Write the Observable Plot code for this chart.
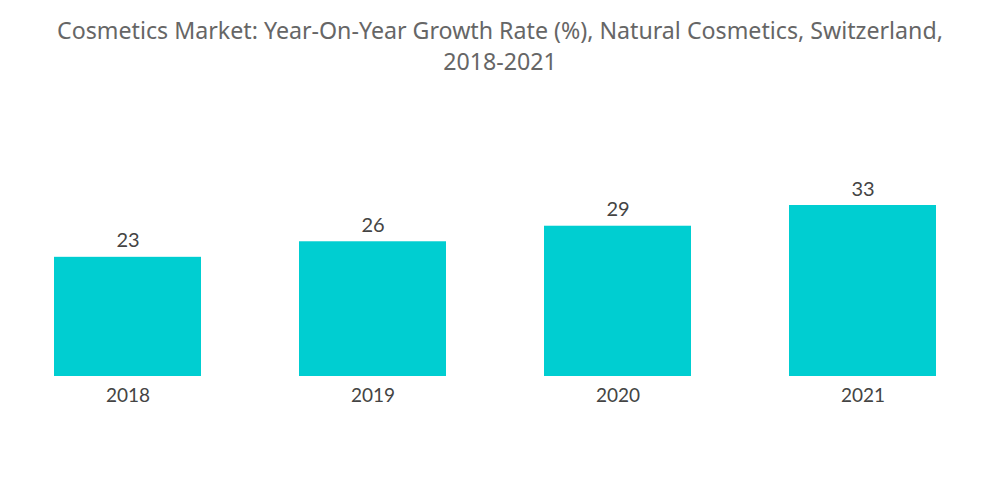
<!DOCTYPE html>
<html>
<head>
<meta charset="utf-8">
<script src="https://cdn.jsdelivr.net/npm/d3@7"></script>
<script src="https://cdn.jsdelivr.net/npm/@observablehq/plot@0.6"></script>
<style>
  html, body { margin: 0; padding: 0; background: #fff; }
  #title { height: 90px; box-sizing: border-box; padding-top: 15px; text-align: center;
    font-family: "Noto Sans", sans-serif; font-size: 23.2px; line-height: 31px; color: #666; }
  #chart svg { display: block; }
</style>
</head>
<body>
<div id="title">Cosmetics Market: Year-On-Year Growth Rate (%), Natural Cosmetics, Switzerland,<br>2018-2021</div>
<div id="chart"></div>
<script>
const years = ["2018", "2019", "2020", "2021"];
const values = [23, 26, 29, 33];
const data = years.map((year, i) => ({year, value: values[i]}));

const chart = Plot.plot({
  width: 1000,
  height: 414,
  marginLeft: 4,
  marginRight: 15,
  marginTop: 115,
  marginBottom: 128,
  style: {fontFamily: "Lato, 'Noto Sans', sans-serif", background: "#fff"},
  x: {domain: years, paddingInner: 0.4, paddingOuter: 0.2, label: null},
  y: {domain: [0, 33], axis: null},
  marks: [
    Plot.barY(data, {x: "year", y: "value", fill: "#00CED1"}),
    Plot.text(data, {x: "year", y: "value", text: d => String(d.value), lineAnchor: "bottom", dy: -10, fontSize: 20, fill: "#444"}),
    Plot.axisX({tickSize: 0, tickPadding: 12, fontSize: 19, color: "#444", label: null})
  ]
});
document.getElementById("chart").appendChild(chart);
</script>
</body>
</html>
